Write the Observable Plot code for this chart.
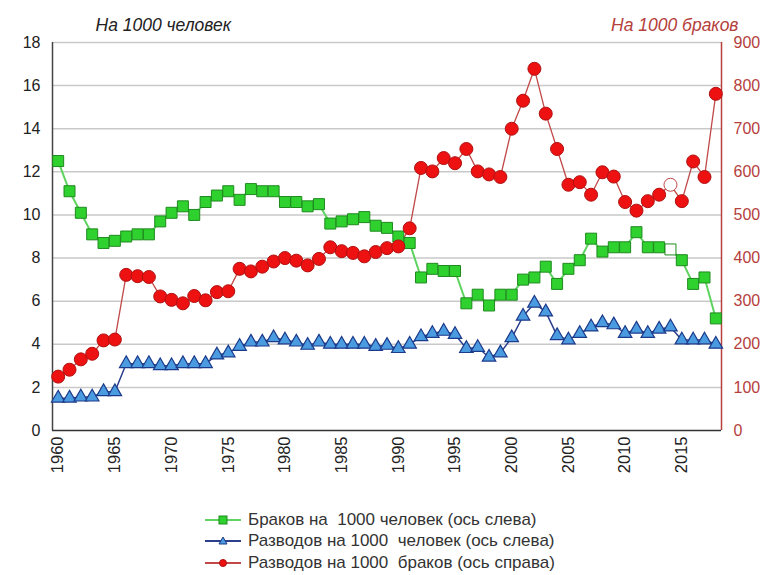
<!DOCTYPE html>
<html><head><meta charset="utf-8">
<script src="https://cdn.jsdelivr.net/npm/d3@7"></script>
<script src="https://cdn.jsdelivr.net/npm/@observablehq/plot@0.6"></script>
<style>
body{margin:0;background:#fff;font-family:"Liberation Sans",Arial,sans-serif;}
#wrap{position:relative;width:768px;height:575px;}
#legend{position:absolute;left:205px;top:509px;font-size:17px;color:#333;}
#legend div{display:flex;align-items:center;height:21.5px;}
#legend span{white-space:pre;}
#legend svg{margin-right:7px;}
</style></head><body>
<div id="wrap"><div id="chart"></div><div id="legend"></div></div>
<script>
const years = d3.range(1960, 2019);
const marriagesPer1000 = [12.5,11.1,10.1,9.1,8.7,8.8,9.0,9.1,9.1,9.7,10.1,10.4,10.0,10.6,10.9,11.1,10.7,11.2,11.1,11.1,10.6,10.6,10.4,10.5,9.6,9.7,9.8,9.9,9.5,9.4,9.0,8.7,7.1,7.5,7.4,7.4,5.9,6.3,5.8,6.3,6.3,7.0,7.1,7.6,6.8,7.5,7.9,8.9,8.3,8.5,8.5,9.2,8.5,8.5,8.4,7.9,6.8,7.1,5.2];
const divorcesPer1000 = [1.5,1.5,1.55,1.55,1.8,1.8,3.1,3.1,3.1,3.0,3.0,3.1,3.1,3.1,3.5,3.6,3.9,4.1,4.1,4.3,4.2,4.1,3.95,4.1,4.0,4.0,4.0,4.0,3.9,3.95,3.8,4.0,4.35,4.5,4.6,4.45,3.8,3.85,3.4,3.6,4.3,5.3,5.9,5.5,4.4,4.2,4.5,4.8,5.0,4.9,4.5,4.7,4.5,4.7,4.8,4.2,4.2,4.2,4.0];
const divorcesPer1000Marriages = [125,141,165,178,209,211,361,358,356,311,303,295,312,302,321,323,375,369,380,392,400,394,383,398,425,416,412,404,414,423,427,469,609,601,632,620,653,601,594,588,700,765,839,735,653,570,576,547,599,589,530,510,532,547,570,532,624,588,781];
const hollowYears = [2014];
const leftTicks = [0,2,4,6,8,10,12,14,16,18];
const rightTicks = [0,100,200,300,400,500,600,700,800,900];
const xTicks = [1960,1965,1970,1975,1980,1985,1990,1995,2000,2005,2010,2015];
const seriesNames = ["Браков на  1000 человек (ось слева)","Разводов на 1000  человек (ось слева)","Разводов на 1000  браков (ось справа)"];
const leftTitle = "На 1000 человек";
const rightTitle = "На 1000 браков";

const ratio = 50; // right axis 900 ↔ left axis 18
const green = years.map((y,i)=>({year:y, v:marriagesPer1000[i], hollow:hollowYears.includes(y)}));
const blue = years.map((y,i)=>({year:y, v:divorcesPer1000[i]}));
const red = years.map((y,i)=>({year:y, v:divorcesPer1000Marriages[i]/ratio, hollow:hollowYears.includes(y)}));

const C = {gLine:"#5fd35f", gFill:"#2fd12f", gStroke:"#1e8a1e",
           bLine:"#2b3f8c", bFill:"#4a9be0", bStroke:"#1c3a8a",
           rLine:"#c04848", rFill:"#ee1111", rStroke:"#b01010", rAxis:"#b5403c"};

const chart = Plot.plot({
  width:768, height:500,
  marginLeft:52, marginRight:47, marginTop:42, marginBottom:70,
  style:{fontFamily:"Liberation Sans, Arial, sans-serif", fontSize:"15px", color:"#222", overflow:"visible"},
  x:{domain:[1959.5,2018.5], axis:null, label:null},
  y:{domain:[0,18], axis:null, label:null},
  marks:[
    Plot.ruleY(leftTicks.filter(d=>d>0), {stroke:"#c9c9c9", strokeWidth:1.5}),
    Plot.axisY(leftTicks, {anchor:"left", label:null, tickSize:0, tickPadding:12, fontSize:16, fill:"#222"}),
    Plot.axisY(rightTicks.map(d=>d/ratio), {anchor:"right", label:null, tickSize:0, tickPadding:12, fontSize:16, fill:C.rAxis, tickFormat:d=>String(Math.round(d*ratio))}),
    Plot.axisX(xTicks, {anchor:"bottom", label:null, tickSize:0, tickPadding:6, tickRotate:-90, fontSize:16.5, fill:"#222", tickFormat:d=>String(d)}),
    Plot.ruleX([1959.5], {stroke:"#444", strokeWidth:1.5}),
    Plot.ruleX([2018.5], {stroke:C.rAxis, strokeWidth:1.5}),
    Plot.ruleY([0], {stroke:"#333", strokeWidth:1.5}),
    Plot.text([leftTitle], {frameAnchor:"top-left", dx:43, dy:-24, fontStyle:"italic", fontSize:17.5, fill:"#222", textAnchor:"start"}),
    Plot.text([rightTitle], {frameAnchor:"top-right", dx:17, dy:-24, fontStyle:"italic", fontSize:17.5, fill:C.rAxis, textAnchor:"end"}),
    Plot.line(red, {x:"year", y:"v", stroke:C.rLine, strokeWidth:1.3}),
    Plot.line(green, {x:"year", y:"v", stroke:C.gLine, strokeWidth:2}),
    Plot.line(blue, {x:"year", y:"v", stroke:C.bLine, strokeWidth:1.5}),
    Plot.dot(green, {x:"year", y:"v", symbol:"square", r:6.2, fill:d=>d.hollow?"#fff":C.gFill, stroke:C.gStroke, strokeWidth:1}),
    Plot.dot(blue, {x:"year", y:"v", symbol:"triangle", r:5, fill:C.bFill, stroke:C.bStroke, strokeWidth:1.2}),
    Plot.dot(red, {x:"year", y:"v", r:6.5, fill:d=>d.hollow?"#fff":C.rFill, stroke:d=>d.hollow?C.rLine:C.rStroke, strokeWidth:1})
  ]
});
document.getElementById("chart").appendChild(chart);

const lg = document.getElementById("legend");
const sw = [
  `<line x1="0" y1="8" x2="36" y2="8" stroke="${C.gLine}" stroke-width="2"/><rect x="14" y="4" width="8" height="8" fill="${C.gFill}" stroke="${C.gStroke}"/>`,
  `<line x1="0" y1="8" x2="36" y2="8" stroke="${C.bLine}" stroke-width="2"/><path d="M18,4 L22,11 L14,11 Z" fill="${C.bFill}" stroke="${C.bStroke}"/>`,
  `<line x1="0" y1="8" x2="36" y2="8" stroke="${C.rLine}" stroke-width="2"/><circle cx="18" cy="8" r="3.5" fill="${C.rFill}" stroke="${C.rStroke}"/>`
];
seriesNames.forEach((n,i)=>{
  const d = document.createElement("div");
  d.innerHTML = `<svg width="36" height="16">${sw[i]}</svg><span>${n}</span>`;
  lg.appendChild(d);
});
</script>
</body></html>
